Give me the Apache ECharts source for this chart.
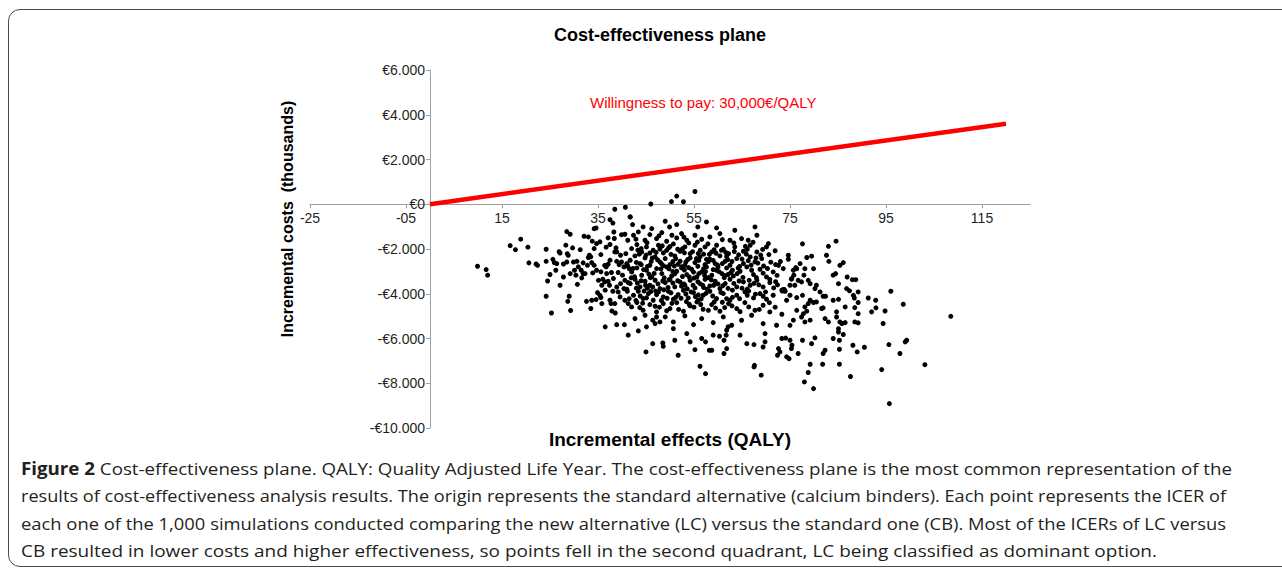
<!DOCTYPE html>
<html>
<head>
<meta charset="utf-8">
<script src="https://cdn.jsdelivr.net/npm/echarts@6/dist/echarts.min.js"></script>
<style>
  html, body { margin: 0; padding: 0; background: #fff; }
  body { width: 1282px; height: 571px; overflow: hidden; position: relative; }
  .frame { position: absolute; left: 8px; top: 9px; width: 1300px; height: 556px;
           border: 1.5px solid #4a4a4a; border-radius: 12px; }
  #chart { position: absolute; left: 0; top: 0; width: 1282px; height: 450px; }
  #caption { position: absolute; left: 21px; top: 455px; font-family: "Open Sans", sans-serif;
             font-size: 17px; line-height: 27.3px; color: #231f20; }
  #caption div { white-space: nowrap; }
  #caption span { display: inline-block; transform-origin: 0 50%; }
</style>
</head>
<body>
<div class="frame"></div>
<div id="chart"></div>
<div id="caption">
  <div><span><b>Figure 2</b> Cost-effectiveness plane. QALY: Quality Adjusted Life Year. The cost-effectiveness plane is the most common representation of the</span></div>
  <div><span>results of cost-effectiveness analysis results. The origin represents the standard alternative (calcium binders). Each point represents the ICER of</span></div>
  <div><span>each one of the 1,000 simulations conducted comparing the new alternative (LC) versus the standard one (CB). Most of the ICERs of LC versus</span></div>
  <div><span>CB resulted in lower costs and higher effectiveness, so points fell in the second quadrant, LC being classified as dominant option.</span></div>
</div>
<script>
// simulaciones: [efecto incremental (QALY), coste incremental (€)]
var ptsAbove = [
  [46.0, 10], [50.3, 120], [51.4, 365], [52.8, 110], [55.2, 570],
  [38.5, -223], [40.7, -134], [37.5, -690], [38.1, -840], [41.7, -566]
];

var ptsLeft = [
  [9.9, -2770], [11.7, -2920], [12.0, -3170],
  [16.7, -1850], [17.8, -2030], [18.9, -1560], [20.4, -1920], [20.6, -2620], [22.1, -2670], [22.4, -2730],
  [24.2, -2010], [24.2, -2550], [25.0, -3140], [24.5, -3430], [24.2, -4110], [25.3, -4860],
  [25.6, -2460], [25.9, -2610], [26.2, -2950], [26.9, -2120], [27.1, -2180], [27.1, -3620], [27.8, -2670],
  [28.5, -1220], [29.2, -1340], [28.3, -1830], [28.6, -2210], [28.8, -2280], [28.5, -2580],
  [29.0, -4110], [28.7, -4340], [29.3, -4750], [29.7, -1950], [30.1, -2950], [30.4, -3170], [30.7, -3580], [30.6, -2550],
  [31.3, -2030], [31.5, -2950], [31.9, -3100], [31.6, -3290], [32.1, -1430], [33.0, -1460], [31.9, -2620],
  [32.6, -4340], [33.7, -4290], [34.6, -4260], [33.2, -2280], [33.0, -2380], [33.5, -2350], [33.8, -1650], [34.2, -1980],
  [33.7, -2610], [33.9, -3070], [33.5, -4660], [34.2, -1090], [34.6, -1060], [34.7, -1760], [35.4, -1680],
  [34.9, -3950], [35.4, -4070], [35.6, -4170], [35.8, -4440], [35.6, -3020], [36.0, -3350], [36.4, -3470], [35.6, -2250],
  [36.5, -3840], [36.5, -5480], [36.4, -2730], [37.1, -2680], [37.1, -1500], [36.7, -1920], [37.5, -1800],
  [36.8, -3100], [37.1, -3440], [37.5, -4290], [37.7, -4440], [37.9, -4770], [38.6, -4860], [38.9, -5380], [40.5, -5380],
  [38.3, -1240], [38.4, -1530], [38.75, -1950], [38.9, -2130], [41.3, -5850], [43.4, -5660],
  [39.9, -1360], [40.6, -1340], [41.2, -1610],
  [39.2, -3920], [39.6, -4140], [38.5, -4440], [40.6, -4290], [41.3, -4440],
  [38.9, -2550], [39.4, -2700], [39.9, -2580], [40.4, -2800], [41.0, -2650], [41.5, -2880], [39.2, -3050],
  [40.1, -3170], [40.6, -3400], [41.3, -3500], [39.7, -3550], [38.9, -3700], [40.4, -3770], [41.1, -3890],
  [38.2, -3320], [37.8, -3050], [38.5, -2130], [39.7, -2280], [40.8, -2210], [37.4, -3620], [38.1, -3890],
  [35.8, -3620], [36.7, -2800], [37.5, -2500], [34.7, -2950], [35.1, -3400], [34.2, -2730], [32.8, -2730],
  [32.3, -3100], [30.9, -2800], [29.9, -2580], [29.2, -3100], [27.8, -3250], [26.4, -2650]
];

var ptsCore = [
  // -500 a -1200
  [41.7, -566], [42.2, -909], [44.4, -1014], [46.2, -1088], [49.0, -760], [49.9, -1014], [51.4, -909],
  [55.8, -1014], [57.6, -790], [59.7, -1058], [63.5, -1163], [67.7, -1014],
  // -1200 a -1700
  [42.4, -1386], [43.4, -1237], [44.8, -1610], [45.8, -1356], [47.2, -1535], [48.3, -1267], [49.3, -1654],
  [50.4, -1386], [51.4, -1505], [52.4, -1312], [53.5, -1610], [55.2, -1386], [56.6, -1565], [58.3, -1460],
  [60.4, -1312], [62.5, -1610], [64.9, -1535], [66.3, -1610], [68.1, -1386],
  // -1750 a -2200
  [42.0, -1982], [43.1, -1803], [44.1, -2131], [45.1, -1908], [46.5, -2057], [47.6, -1833], [48.6, -2176],
  [49.7, -1952], [50.7, -1773], [52.1, -2101], [53.1, -1908], [54.2, -2206], [55.2, -1833], [56.3, -2057],
  [57.3, -1908], [58.7, -2131], [59.7, -1833], [61.1, -2012], [62.2, -2206], [63.5, -1908], [65.3, -2101],
  [66.7, -1833], [68.1, -2131], [70.1, -1908], [70.5, -1758],
  // -2280 a -2730
  [41.7, -2504], [42.7, -2310], [43.75, -2653], [44.8, -2399], [45.8, -2727], [46.9, -2355], [47.9, -2578],
  [49.0, -2429], [50.0, -2697], [51.0, -2310], [52.1, -2548], [53.1, -2727], [54.2, -2399], [55.2, -2608],
  [56.25, -2355], [57.3, -2697], [58.3, -2459], [59.4, -2653], [60.4, -2310], [61.5, -2548], [62.5, -2727],
  [63.9, -2429], [65.3, -2653], [66.7, -2355], [67.7, -2578], [69.1, -2429], [72.0, -2697], [72.6, -2727],
  [74.65, -2280], [74.65, -2459],
  // -2800 a -3250
  [42.0, -3025], [43.1, -2846], [44.1, -3174], [45.1, -2951], [46.2, -3248], [47.2, -2876], [48.3, -3100],
  [49.3, -2802], [50.35, -3204], [51.4, -2995], [52.4, -2846], [53.5, -3144], [54.5, -2906], [55.6, -3248],
  [56.6, -3025], [57.6, -2802], [58.7, -3174], [59.7, -2951], [60.8, -3100], [61.8, -2846], [63.2, -3204],
  [64.6, -2995], [66.0, -2802], [67.4, -3144], [68.75, -2906], [70.1, -3248], [71.5, -3025], [73.6, -2876],
  [75.35, -3323], [76.2, -2831],
  // -3350 a -3770
  [41.7, -3547], [42.7, -3353], [43.75, -3696], [44.8, -3442], [45.8, -3621], [46.9, -3398], [47.9, -3770],
  [49.0, -3502], [50.0, -3353], [51.0, -3696], [52.1, -3472], [53.1, -3621], [54.2, -3398], [55.2, -3740],
  [56.25, -3547], [57.3, -3353], [58.3, -3651], [59.4, -3442], [60.4, -3770], [61.5, -3547], [62.5, -3353],
  [63.9, -3696], [65.3, -3472], [66.7, -3621], [68.1, -3398], [69.4, -3696], [70.8, -3502],
  [73.3, -3844], [73.6, -3815], [74.0, -3889], [73.5, -3830], [73.7, -3860], [73.4, -3880], [73.8, -3810],
  // -3850 a -4300
  [42.4, -4068], [43.4, -3889], [44.4, -4217], [45.5, -3993], [46.5, -4291], [47.6, -3919], [48.6, -4142],
  [49.65, -3889], [50.7, -4247], [51.7, -4038], [52.8, -3844], [53.8, -4187], [54.9, -3949], [55.9, -4291],
  [56.9, -4068], [58.3, -3889], [59.7, -4217], [61.1, -3993], [62.5, -4291], [63.9, -4068], [65.6, -3919],
  [67.4, -4187], [68.75, -3993], [70.1, -4247], [71.5, -4068], [74.3, -4291],
  // -4360 a -4920
  [42.0, -4590], [43.1, -4396], [44.4, -4739], [45.8, -4485], [47.2, -4813], [48.6, -4441], [50.0, -4664],
  [51.4, -4396], [52.8, -4783], [54.2, -4545], [55.6, -4366], [56.9, -4694], [58.7, -4485], [60.4, -4783],
  [62.2, -4441], [63.9, -4664], [65.6, -4396], [67.7, -4739], [69.4, -4515], [70.8, -4813], [73.3, -4917],
  // -4960 a -5410
  [42.7, -5111], [44.8, -4962], [46.9, -5335], [49.0, -5037], [50.7, -5260], [53.1, -4992], [54.9, -5379],
  [56.6, -5111], [59.0, -5290], [61.1, -5037], [62.85, -5409], [64.9, -5186], [67.0, -4962], [69.4, -5335],
  [72.2, -5409]
];

var ptsCoreFill = [
  [43.6, -2230], [45.8, -2180], [47.9, -2000], [50.2, -2240], [52.6, -1990], [54.7, -2120], [57.0, -2230],
  [59.2, -2030], [61.6, -2150], [64.3, -2260], [66.1, -2010], [68.9, -2270],
  [41.2, -2760], [43.0, -2600], [45.3, -2780], [47.4, -2480], [48.6, -2750], [50.6, -2560], [52.5, -2790],
  [53.7, -2470], [55.8, -2770], [58.0, -2560], [60.0, -2800], [62.0, -2470], [64.5, -2780], [66.3, -2520],
  [69.5, -2760], [71.0, -2590],
  [42.6, -3240], [44.5, -2920], [46.7, -3090], [48.8, -3290], [51.0, -3110], [53.0, -2940], [55.0, -3300],
  [57.2, -3180], [59.0, -2920], [61.3, -3280], [62.7, -3050], [65.2, -3270], [67.0, -2950], [69.4, -3080],
  [72.3, -3180],
  [41.0, -3800], [43.2, -3520], [45.3, -3750], [47.5, -3560], [49.6, -3720], [51.6, -3420], [53.6, -3780],
  [55.8, -3460], [57.8, -3800], [60.0, -3560], [62.1, -3760], [64.4, -3430], [66.1, -3790], [68.5, -3600],
  [71.6, -3740],
  [41.5, -4220], [43.8, -4100], [46.0, -3900], [48.2, -4300], [50.2, -3960], [52.3, -4200], [54.4, -3920],
  [56.5, -4230], [58.9, -4100], [60.6, -3940], [63.0, -4160], [66.1, -4070], [69.4, -4110],
  [43.7, -4620], [47.8, -4600], [51.8, -4700], [55.0, -4600], [58.0, -4740], [61.4, -4620], [64.6, -4800],
  [68.6, -4700],
  [44.0, -1980], [46.3, -2400], [48.1, -2890], [49.8, -3380], [51.6, -2010], [53.3, -2580], [54.9, -3030],
  [56.8, -3620], [58.2, -2240], [59.9, -2720], [61.4, -3190], [63.0, -3840], [45.6, -3120], [47.0, -3880],
  [50.9, -2760], [52.9, -3560], [55.5, -2430], [57.4, -3010], [60.7, -2060], [62.9, -2560], [48.4, -1860],
  [53.9, -1730], [44.9, -3620], [55.9, -4050], [58.6, -3380], [64.2, -2850], [66.4, -3880], [50.4, -4430],
  [54.0, -4470], [60.9, -4380]
];

var ptsCoreDense = [
  [42.9, -1560], [45.2, -1720], [47.7, -1410], [50.0, -1890], [52.9, -1470], [55.7, -1690], [57.9, -1770],
  [60.9, -1580], [63.3, -1730], [65.7, -1880], [67.3, -1700], [69.3, -2020],
  [43.3, -2050], [45.0, -2270], [47.1, -2150], [49.3, -2060], [51.2, -2430], [53.0, -2170], [55.9, -2200],
  [57.6, -2460], [59.6, -2190], [61.8, -2330], [63.4, -2110], [65.9, -2230], [67.9, -2400], [70.6, -2250],
  [71.9, -2080],
  [42.3, -2870], [44.0, -2700], [46.1, -2550], [48.2, -2650], [49.8, -2890], [51.7, -2680], [53.9, -2830],
  [56.0, -2510], [57.0, -2880], [59.0, -2510], [60.9, -2650], [63.0, -2950], [65.0, -2450], [66.9, -2720],
  [68.3, -2630], [70.3, -2870], [73.0, -2560],
  [41.9, -3290], [44.0, -3420], [45.9, -3280], [48.5, -3430], [50.6, -3010], [52.6, -3230], [54.0, -3250],
  [56.0, -3100], [58.0, -3280], [60.2, -3010], [62.1, -3140], [64.0, -3100], [66.5, -3400], [68.0, -3280],
  [70.8, -3360], [72.0, -3460],
  [43.0, -3750], [44.6, -3880], [46.4, -3700], [48.7, -3820], [50.6, -3520], [52.4, -3660], [54.8, -3620],
  [57.0, -3720], [59.1, -3620], [61.0, -3640], [63.3, -3540], [65.0, -3750], [67.5, -3540], [69.9, -3920],
  [72.4, -3600],
  [42.9, -4300], [45.1, -4180], [47.2, -4040], [49.4, -4200], [51.2, -4160], [53.3, -4010], [55.3, -4130],
  [57.5, -3980], [59.2, -4370], [61.8, -4220], [64.5, -4220], [67.8, -4020], [70.7, -4400],
  [44.3, -4420], [46.9, -4560], [49.3, -4760], [53.4, -4350], [56.4, -4480], [59.5, -4640], [62.9, -4540],
  [66.4, -4590], [71.9, -4600]
];

var ptsLower = [
  [45.1, -5480], [45.0, -6600], [46.4, -6230], [48.5, -6200], [48.6, -6350], [51.0, -6080], [51.7, -6750],
  [46.4, -5180], [47.2, -5040], [47.9, -5260], [50.7, -5560], [53.5, -5780], [54.2, -6150], [55.2, -6500],
  [56.25, -7240], [57.4, -7570], [56.6, -6000], [57.4, -6150], [58.2, -6525], [58.7, -6525], [59.0, -5850],
  [61.25, -6670], [61.8, -6450], [61.25, -6080], [61.7, -5850], [61.8, -5630], [62.1, -5480], [64.6, -5850],
  [66.0, -6230], [67.5, -7270], [67.6, -7200], [69.0, -7640], [69.4, -6380], [69.8, -6150], [72.4, -6750],
  [72.9, -6600], [74.3, -6820], [74.8, -6900], [73.3, -6000], [75.0, -6080], [75.3, -6450], [76.7, -6670],
  [60.3, -5900], [67.5, -6270], [69.8, -5780], [72.6, -6450], [74.1, -5980], [75.4, -6300]
];

var ptsRight = [
  [77.6, -1770], [83.0, -1880], [84.6, -1650], [82.6, -2280], [83.1, -2550], [78.5, -2380], [79.5, -2320],
  [77.1, -2650], [76.4, -2880], [75.7, -2950], [78.1, -2880], [77.9, -3170], [79.9, -2880],
  [75.8, -3170], [75.3, -3350], [76.7, -3400], [77.4, -3470], [78.8, -3400], [79.2, -3550],
  [75.0, -3620], [76.0, -3620], [80.5, -3620], [80.2, -3770],
  [81.25, -3920], [81.9, -4110], [82.4, -4110], [77.6, -4070], [76.4, -4170], [75.0, -4067],
  [79.2, -4290], [79.9, -4390], [80.5, -4365],
  [78.8, -4440], [78.1, -4590], [78.5, -4780], [77.8, -4890],
  [76.4, -4740], [75.7, -5180], [75.0, -5410],
  [77.4, -5040], [78.1, -5260], [79.2, -5180],
  [81.6, -4660], [81.9, -4630], [82.3, -5110], [83.0, -5260],
  [84.0, -4290], [85.1, -4250],
  [84.0, -3170], [84.5, -3100], [85.1, -3550],
  [85.4, -2730], [86.1, -2610],
  [86.9, -3250], [88.0, -3370], [88.7, -3370],
  [86.8, -3770], [87.4, -3870],
  [88.2, -4070], [88.4, -4190], [89.2, -3920],
  [89.2, -4390], [88.5, -4620], [89.2, -4890],
  [86.5, -4590], [84.7, -4810], [84.7, -5040], [85.4, -5260], [86.5, -5290], [85.8, -5330],
  [88.5, -5260], [89.2, -5300],
  [91.3, -4190], [92.85, -4290], [92.9, -4630], [92.0, -4810],
  [94.8, -4770], [94.4, -5330],
  [96.0, -3890], [98.6, -4470], [108.5, -5010],
  [85.1, -5560], [85.1, -5710], [86.1, -5820],
  [84.0, -6000], [85.3, -6080],
  [80.2, -5970], [79.5, -6230], [77.6, -6080],
  [82.3, -6525], [81.9, -6670], [81.8, -7150],
  [85.3, -6480], [85.3, -7150],
  [88.1, -6300], [89.0, -6600], [90.5, -6390],
  [79.2, -7150], [78.8, -7520], [78.0, -7940], [79.9, -8240],
  [87.6, -7700], [94.1, -7390], [95.6, -6270], [97.9, -6670], [99.0, -6150], [99.3, -6080], [103.1, -7170],
  [95.7, -8910]
];

// umbral de disposición a pagar
var wtpLine = [[0, 0], [120, 3600]];

var simulations = ptsAbove.concat(ptsLeft, ptsCore, ptsCoreFill, ptsCoreDense, ptsLower, ptsRight);

function fmtQaly(v) {
  var a = Math.abs(v);
  var s = a < 10 ? '0' + a : '' + a;
  return (v < 0 ? '-' : '') + s;
}
function fmtEuro(v) {
  if (v === 0) return '€0';
  var s = Math.abs(v).toString().replace(/\B(?=(\d{3})+(?!\d))/g, '.');
  return (v < 0 ? '-' : '') + '€' + s;
}

var FONT = '"Liberation Sans", Arial, sans-serif';
var axisGray = '#a0a0a0';

var myChart = echarts.init(document.getElementById('chart'), null, { renderer: 'svg' });
var option = {
  animation: false,
  grid: { left: 310, right: 252, top: 70, bottom: 22 },
  xAxis: {
    type: 'value',
    min: -25,
    max: 125,
    interval: 20,
    // el eje cruza en coste 0: se desplaza desde el borde inferior
    offset: -223.75,
    axisLine: { onZero: false, lineStyle: { color: axisGray, width: 1 } },
    axisTick: { show: true, length: 4, lineStyle: { color: axisGray } },
    axisLabel: { showMaxLabel: false, formatter: fmtQaly, color: '#1f1f1f', fontSize: 14, fontFamily: FONT, margin: 7 },
    splitLine: { show: false }
  },
  yAxis: {
    type: 'value',
    min: -10000,
    max: 6000,
    interval: 2000,
    // el eje cruza en efecto 0
    offset: -120,
    axisLine: { onZero: false, lineStyle: { color: axisGray, width: 1 } },
    axisTick: { show: true, length: 4, lineStyle: { color: axisGray } },
    axisLabel: { formatter: fmtEuro, color: '#1f1f1f', fontSize: 14, fontFamily: FONT, margin: 5 },
    splitLine: { show: false }
  },
  series: [
    {
      name: 'Simulaciones',
      type: 'scatter',
      data: simulations,
      symbolSize: 5,
      itemStyle: { color: '#000', opacity: 1 },
      z: 2
    },
    {
      name: 'Umbral',
      type: 'line',
      data: wtpLine,
      symbol: 'none',
      lineStyle: { color: '#ff0000', width: 4.5 },
      z: 3
    }
  ],
  graphic: [
    {
      type: 'text', x: 660, y: 35,
      style: { text: 'Cost-effectiveness plane', font: 'bold 18px ' + FONT, fill: '#000',
               align: 'center', verticalAlign: 'middle', textAlign: 'center', textVerticalAlign: 'middle' }
    },
    {
      type: 'text', x: 590, y: 102,
      style: { text: 'Willingness to pay: 30,000€/QALY', font: '15px ' + FONT, fill: '#ff0000',
               align: 'left', verticalAlign: 'middle', textAlign: 'left', textVerticalAlign: 'middle' }
    },
    {
      type: 'text', x: 287, y: 219, rotation: Math.PI / 2,
      style: { text: 'Incremental costs  (thousands)', font: 'bold 16px ' + FONT, fill: '#000',
               align: 'center', verticalAlign: 'middle', textAlign: 'center', textVerticalAlign: 'middle' }
    },
    {
      type: 'text', x: 670, y: 439,
      style: { text: 'Incremental effects (QALY)', font: 'bold 19px ' + FONT, fill: '#000',
               align: 'center', verticalAlign: 'middle', textAlign: 'center', textVerticalAlign: 'middle' }
    }
  ]
};
myChart.setOption(option);

// ajustar cada línea del pie de figura a su ancho en la imagen
var lineWidths = [1211, 1205, 1205, 1136];
var spans = document.querySelectorAll('#caption span');
for (var i = 0; i < spans.length; i++) {
  var w = spans[i].getBoundingClientRect().width;
  spans[i].style.transform = 'scaleX(' + (lineWidths[i] / w) + ')';
}
</script>
</body>
</html>
